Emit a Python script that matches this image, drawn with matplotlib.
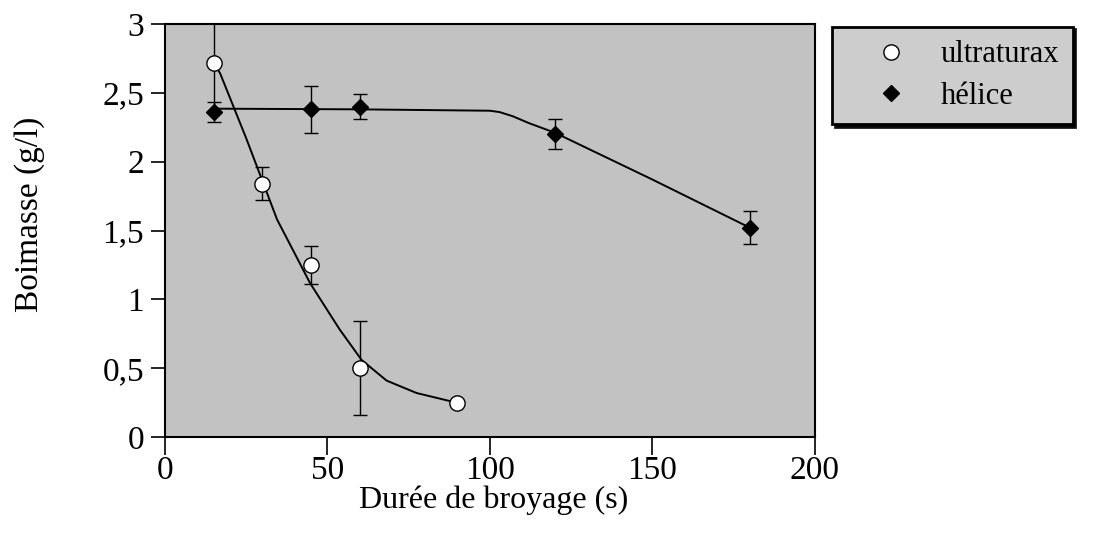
import matplotlib

matplotlib.use("Agg")
import matplotlib.pyplot as plt
from matplotlib.lines import Line2D
from matplotlib.ticker import FuncFormatter

plt.rcParams["font.family"] = ["Liberation Serif", "DejaVu Serif"]

# mesures
t_ultra = [15, 30, 45, 60, 90]
bio_ultra = [2.72, 1.84, 1.25, 0.50, 0.25]
err_ultra = [0.35, 0.12, 0.14, 0.34, 0.0]

t_helice = [15, 45, 60, 120, 180]
bio_helice = [2.36, 2.38, 2.40, 2.20, 1.52]
err_helice = [0.07, 0.17, 0.09, 0.11, 0.12]

# courbes de tendance tracées à la main
fit_ultra_t = [15, 17, 25, 34.5, 40, 44.6, 50, 53.8, 60.5, 68.2, 77.4, 88.6, 90]
fit_ultra_y = [2.72, 2.64, 2.17, 1.58, 1.33, 1.12, 0.92, 0.78, 0.56, 0.41, 0.32, 0.256, 0.25]

fit_helice_t = [15, 60, 100, 103, 107, 112, 120, 150, 180]
fit_helice_y = [2.385, 2.38, 2.37, 2.36, 2.33, 2.28, 2.21, 1.87, 1.52]

fig = plt.figure(figsize=(10.96, 5.33), dpi=100)
fig.patch.set_facecolor("white")
ax = fig.add_axes([0.1505, 0.180, 0.5931, 0.775])
ax.set_facecolor("#c2c2c2")

ax.plot(fit_ultra_t, fit_ultra_y, color="black", lw=1.4, zorder=2)
ax.plot(fit_helice_t, fit_helice_y, color="black", lw=1.4, zorder=2)

ax.errorbar(t_ultra, bio_ultra, yerr=err_ultra, fmt="o", ms=11, mfc="white",
            mec="black", mew=1.0, ecolor="black", elinewidth=1.0, capsize=5,
            zorder=3)
ax.errorbar(t_helice, bio_helice, yerr=err_helice, fmt="D", ms=8, mfc="black",
            mec="black", ecolor="black", elinewidth=1.0, capsize=5,
            zorder=3)

ax.set_xlim(0, 200)
ax.set_ylim(0, 3)
ax.set_xticks([0, 50, 100, 150, 200])
ax.set_yticks([0, 0.5, 1, 1.5, 2, 2.5, 3])
ax.yaxis.set_major_formatter(FuncFormatter(lambda v, p: f"{v:g}".replace(".", ",")))
ax.tick_params(direction="out", width=1.2, labelsize=24)
ax.tick_params(axis="x", length=13, pad=0)
ax.tick_params(axis="y", length=10, pad=5)
for s in ax.spines.values():
    s.set_linewidth(1.5)

ax.set_xlabel("Durée de broyage (s)", fontsize=23)
ax.xaxis.set_label_coords(0.506, -0.118)
ax.set_ylabel("Boimasse (g/l)", fontsize=24)
ax.yaxis.set_label_coords(-0.185, 0.54)

handles = [
    Line2D([], [], ls="none", marker="o", ms=11, mfc="white", mec="black"),
    Line2D([], [], ls="none", marker="D", ms=8, mfc="black", mec="black"),
]
leg = fig.legend(handles=handles, labels=["ultraturax", "hélice"],
                 loc="upper left", bbox_to_anchor=(0.759, 0.95),
                 borderaxespad=0, fontsize=22, frameon=True, fancybox=False,
                 shadow={"color": "black", "alpha": 0.9},
                 edgecolor="black", facecolor="#cdcdcd", framealpha=1,
                 handletextpad=0.1, borderpad=0.45, labelspacing=0.4,
                 handlelength=3.0)
leg.get_frame().set_linewidth(2)

fig.savefig("out.png", dpi=100)
